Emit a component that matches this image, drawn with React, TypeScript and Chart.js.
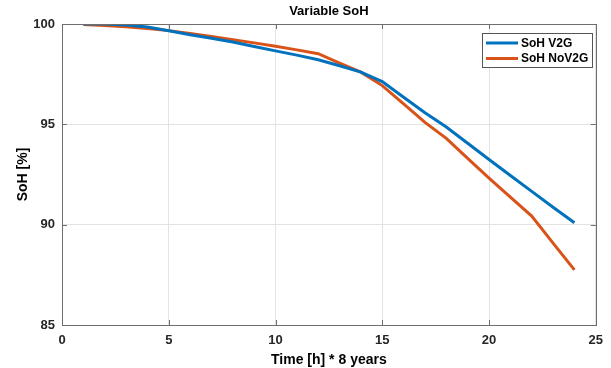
import React, { useEffect, useRef } from "react";
import { Chart, registerables } from "chart.js";

Chart.register(...registerables);

const hours = [1, 2, 3, 4, 5, 6, 7, 8, 9, 10, 11, 12, 13, 14, 15, 16, 17, 18, 19, 20, 21, 22, 23, 24];
const sohV2G = [100, 100, 99.95, 99.85, 99.66, 99.46, 99.29, 99.1, 98.88, 98.66, 98.45, 98.22, 97.92, 97.6, 97.13, 96.35, 95.58, 94.87, 94.06, 93.25, 92.45, 91.66, 90.87, 90.1];
const sohNoV2G = [99.97, 99.92, 99.86, 99.77, 99.67, 99.53, 99.38, 99.22, 99.06, 98.89, 98.71, 98.52, 98.05, 97.6, 96.93, 96.02, 95.1, 94.3, 93.3, 92.32, 91.37, 90.43, 89.08, 87.75];
const xTicks = [0, 5, 10, 15, 20, 25];
const yTicks = [85, 90, 95, 100];
const seriesNames = ["SoH V2G", "SoH NoV2G"];
const chartTitle = "Variable SoH";
const xTitle = "Time [h] * 8 years";
const yTitle = "SoH [%]";

const BLUE = "#0072BD";
const ORANGE = "#D95319";
const FONT = "'Liberation Sans', Arial, Helvetica, sans-serif";

const decorPlugin = {
  id: "decor",
  afterDraw(chart: any) {
    const ctx = chart.ctx as CanvasRenderingContext2D;
    const a = chart.chartArea;
    const xs = chart.scales.x;
    const ys = chart.scales.y;
    ctx.save();
    // box
    ctx.strokeStyle = "#6e6e6e";
    ctx.lineWidth = 1;
    ctx.strokeRect(Math.round(a.left) + 0.5, Math.round(a.top) + 0.5, Math.round(a.right - a.left), Math.round(a.bottom - a.top));
    // inward ticks
    ctx.beginPath();
    for (const t of xTicks) {
      const px = Math.round(xs.getPixelForValue(t)) + 0.5;
      ctx.moveTo(px, a.bottom);
      ctx.lineTo(px, a.bottom - 5);
      ctx.moveTo(px, a.top);
      ctx.lineTo(px, a.top + 5);
    }
    for (const t of yTicks) {
      const py = Math.round(ys.getPixelForValue(t)) + 0.5;
      ctx.moveTo(a.left, py);
      ctx.lineTo(a.left + 5, py);
      ctx.moveTo(a.right, py);
      ctx.lineTo(a.right - 5, py);
    }
    ctx.stroke();

    // titles
    ctx.fillStyle = "#000";
    ctx.font = `bold 13px ${FONT}`;
    ctx.textAlign = "center";
    ctx.textBaseline = "alphabetic";
    const cx = (a.left + a.right) / 2;
    ctx.fillText(chartTitle, cx, 15);
    ctx.font = `bold 14px ${FONT}`;
    ctx.fillText(xTitle, cx, 364);
    ctx.save();
    ctx.translate(27, (a.top + a.bottom) / 2);
    ctx.rotate(-Math.PI / 2);
    ctx.fillText(yTitle, 0, 0);
    ctx.restore();

    // legend
    const lx = 482.5, ly = 33.5, lw = 110, lh = 34;
    ctx.fillStyle = "#fff";
    ctx.fillRect(lx, ly, lw, lh);
    ctx.strokeStyle = "#555";
    ctx.strokeRect(lx, ly, lw, lh);
    const colors = [BLUE, ORANGE];
    ctx.font = `bold 12px ${FONT}`;
    ctx.textAlign = "left";
    ctx.textBaseline = "middle";
    seriesNames.forEach((name, i) => {
      const y = 43 + i * 15.5;
      ctx.strokeStyle = colors[i];
      ctx.lineWidth = 3;
      ctx.beginPath();
      ctx.moveTo(486, y);
      ctx.lineTo(518, y);
      ctx.stroke();
      ctx.fillStyle = "#000";
      ctx.fillText(name, 521, y + 0.5);
    });
    ctx.restore();
  },
};

export default function App() {
  const ref = useRef<HTMLCanvasElement>(null);
  useEffect(() => {
    if (!ref.current) return;
    const chart = new Chart(ref.current, {
      type: "line",
      data: {
        datasets: [
          {
            label: seriesNames[0],
            data: hours.map((h, i) => ({ x: h, y: sohV2G[i] })),
            borderColor: BLUE,
            backgroundColor: BLUE,
            borderWidth: 3,
            pointRadius: 0,
            tension: 0,
          },
          {
            label: seriesNames[1],
            data: hours.map((h, i) => ({ x: h, y: sohNoV2G[i] })),
            borderColor: ORANGE,
            backgroundColor: ORANGE,
            borderWidth: 3,
            pointRadius: 0,
            tension: 0,
          },
        ],
      },
      options: {
        animation: false,
        responsive: false,
        devicePixelRatio: 1,
        layout: { padding: { top: 24, right: 11, left: 0, bottom: 0 } },
        plugins: {
          legend: { display: false },
          title: { display: false },
          tooltip: { enabled: false },
        },
        scales: {
          x: {
            type: "linear",
            min: 0,
            max: 25,
            afterBuildTicks: (s: any) => {
              s.ticks = xTicks.map((v) => ({ value: v }));
            },
            afterFit: (s: any) => {
              s.height = 43;
            },
            grid: { color: "#e3e3e3", drawTicks: false, lineWidth: 1 },
            border: { display: false },
            ticks: {
              padding: 8,
              color: "#262626",
              font: { family: FONT, size: 13, weight: "bold" },
              maxRotation: 0,
            },
          },
          y: {
            type: "linear",
            min: 85,
            max: 100,
            afterBuildTicks: (s: any) => {
              s.ticks = yTicks.map((v) => ({ value: v }));
            },
            afterFit: (s: any) => {
              s.width = 62;
            },
            grid: { color: "#e3e3e3", drawTicks: false, lineWidth: 1 },
            border: { display: false },
            ticks: {
              padding: 7,
              color: "#262626",
              font: { family: FONT, size: 13, weight: "bold" },
            },
          },
        },
      },
      plugins: [decorPlugin],
    });
    return () => chart.destroy();
  }, []);
  return (
    <div style={{ position: "fixed", left: 0, top: 0, width: 611, height: 368, background: "#fff" }}>
      <canvas ref={ref} width={611} height={368} style={{ width: 611, height: 368 }} />
    </div>
  );
}
